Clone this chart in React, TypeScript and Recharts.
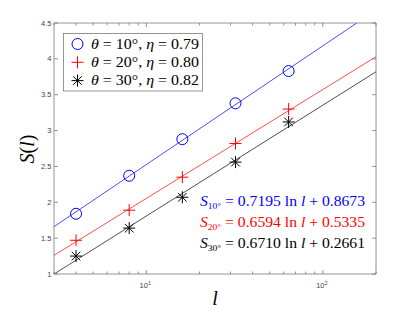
import React from 'react';
import { ComposedChart, XAxis, YAxis, Scatter, Line } from 'recharts';

const lValues = [4, 8, 16, 32, 64];
const s10 = [1.84, 2.37, 2.88, 3.38, 3.83];
const s20 = [1.47, 1.89, 2.35, 2.82, 3.3];
const s30 = [1.25, 1.64, 2.07, 2.56, 3.12];

const fitL = [3, 200];
const fit10 = [1.66, 4.68];
const fit20 = [1.26, 4.03];
const fit30 = [1.0, 3.82];

const xTicks = [3, 4, 5, 6, 7, 8, 9, 10, 20, 30, 40, 50, 60, 70, 80, 90, 100, 200];
const xMajor = [10, 100];
const xTickLabels: Record<number, string> = { 10: '1', 100: '2' };
const yTicks = [1, 1.5, 2, 2.5, 3, 3.5, 4, 4.5];

const legendLabels = [
  { theta: '10°', eta: '0.79' },
  { theta: '20°', eta: '0.80' },
  { theta: '30°', eta: '0.82' },
];
const eqLabels = [
  { sub: '10°', a: '0.7195', b: '0.8673' },
  { sub: '20°', a: '0.6594', b: '0.5335' },
  { sub: '30°', a: '0.6710', b: '0.2661' },
];

const BLUE = '#0000ff';
const RED = '#ff0000';
const BLACK = '#000000';
const FRAME = '#7a7a7a';
const TICKC = '#444';

const pts = (ys: number[]) => lValues.map((l, i) => ({ l, s: ys[i] }));
const fit = (ys: number[]) => fitL.map((l, i) => ({ l, s: ys[i] }));

const CircleShape = (p: any) => (
  <circle cx={p.cx} cy={p.cy} r={5.5} fill="none" stroke={BLUE} strokeWidth={1} />
);
const PlusShape = (p: any) => (
  <g stroke={RED} strokeWidth={1}>
    <line x1={p.cx - 6} y1={p.cy} x2={p.cx + 6} y2={p.cy} />
    <line x1={p.cx} y1={p.cy - 6} x2={p.cx} y2={p.cy + 6} />
  </g>
);
const StarShape = (p: any) => (
  <g stroke={BLACK} strokeWidth={1}>
    <line x1={p.cx - 6} y1={p.cy} x2={p.cx + 6} y2={p.cy} />
    <line x1={p.cx} y1={p.cy - 6} x2={p.cx} y2={p.cy + 6} />
    <line x1={p.cx - 4.3} y1={p.cy - 4.3} x2={p.cx + 4.3} y2={p.cy + 4.3} />
    <line x1={p.cx - 4.3} y1={p.cy + 4.3} x2={p.cx + 4.3} y2={p.cy - 4.3} />
  </g>
);

const BottomTick = (p: any) => {
  const v = p.payload.value;
  const major = xMajor.includes(v);
  const len = major ? 4 : 2.5;
  return (
    <g>
      <line x1={p.x} y1={p.y} x2={p.x} y2={p.y - len} stroke={FRAME} strokeWidth={0.8} />
      {major && (
        <text x={p.x - 1} y={p.y + 14} textAnchor="middle" fontSize={7.5} fill={TICKC} fontFamily="Liberation Sans, Arial, sans-serif">
          10<tspan dy={-3} fontSize={5.5}>{xTickLabels[v]}</tspan>
        </text>
      )}
    </g>
  );
};
const TopTick = (p: any) => {
  const v = p.payload.value;
  const major = xMajor.includes(v);
  const len = major ? 4 : 2.5;
  return <line x1={p.x} y1={p.y} x2={p.x} y2={p.y + len} stroke={FRAME} strokeWidth={0.8} />;
};
const LeftTick = (p: any) => (
  <g>
    <line x1={p.x} y1={p.y} x2={p.x + 4} y2={p.y} stroke={FRAME} strokeWidth={0.8} />
    <text x={p.x - 2.5} y={p.y + 2.6} textAnchor="end" fontSize={7.5} fill={TICKC} fontFamily="Liberation Sans, Arial, sans-serif">
      {String(p.payload.value)}
    </text>
  </g>
);
const RightTick = (p: any) => (
  <line x1={p.x} y1={p.y} x2={p.x - 4} y2={p.y} stroke={FRAME} strokeWidth={0.8} />
);

const SERIF = 'Liberation Serif, DejaVu Serif, serif';

export default function App() {
  return (
    <div style={{ position: 'absolute', left: 0, top: 0, width: 415, height: 312, background: '#fff' }}>
      <ComposedChart width={415} height={312} margin={{ top: 0, right: 0, bottom: 0, left: 0 }}>
        <XAxis
          dataKey="l"
          type="number"
          scale="log"
          domain={[3, 200]}
          allowDataOverflow
          ticks={xTicks}
          interval={0}
          height={38}
          tickSize={0}
          tickMargin={0}
          tickLine={false}
          tick={<BottomTick />}
          axisLine={{ stroke: FRAME, strokeWidth: 0.8 }}
        />
        <XAxis
          xAxisId="top"
          orientation="top"
          dataKey="l"
          type="number"
          scale="log"
          domain={[3, 200]}
          allowDataOverflow
          ticks={xTicks}
          interval={0}
          height={23}
          tickSize={0}
          tickMargin={0}
          tickLine={false}
          tick={<TopTick />}
          axisLine={{ stroke: FRAME, strokeWidth: 0.8 }}
        />
        <YAxis
          type="number"
          domain={[1, 4.5]}
          allowDataOverflow
          ticks={yTicks}
          interval={0}
          width={54}
          tickSize={0}
          tickMargin={0}
          tickLine={false}
          tick={<LeftTick />}
          axisLine={{ stroke: FRAME, strokeWidth: 0.8 }}
        />
        <YAxis
          yAxisId="right"
          orientation="right"
          type="number"
          domain={[1, 4.5]}
          allowDataOverflow
          ticks={yTicks}
          interval={0}
          width={39}
          tickSize={0}
          tickMargin={0}
          tickLine={false}
          tick={<RightTick />}
          axisLine={{ stroke: FRAME, strokeWidth: 0.8 }}
        />
        <Line data={fit(fit10)} dataKey="s" stroke={BLUE} strokeWidth={0.7} dot={false} isAnimationActive={false} type="linear" />
        <Line data={fit(fit20)} dataKey="s" stroke={RED} strokeWidth={0.7} dot={false} isAnimationActive={false} type="linear" />
        <Line data={fit(fit30)} dataKey="s" stroke={BLACK} strokeWidth={0.7} dot={false} isAnimationActive={false} type="linear" />
        <Scatter data={pts(s10)} dataKey="s" shape={<CircleShape />} isAnimationActive={false} />
        <Scatter data={pts(s20)} dataKey="s" shape={<PlusShape />} isAnimationActive={false} />
        <Scatter data={pts(s30)} dataKey="s" shape={<StarShape />} isAnimationActive={false} />
      </ComposedChart>
      <svg width={415} height={312} style={{ position: 'absolute', left: 0, top: 0, pointerEvents: 'none' }}>
        <rect x={63.5} y={33.5} width={139} height={57.5} fill="#fff" stroke={FRAME} strokeWidth={0.8} />
        {legendLabels.map((d, i) => {
          const cy = 44 + i * 18.3;
          const cx = 77.5;
          return (
            <g key={i}>
              {i === 0 && <circle cx={cx} cy={cy} r={5.5} fill="none" stroke={BLUE} strokeWidth={1} />}
              {i === 1 && <PlusShape cx={cx} cy={cy} />}
              {i === 2 && <StarShape cx={cx} cy={cy} />}
              <text x={91} y={cy + 4.8} fontSize={14} fontFamily={SERIF} fill="#000" textLength={108} lengthAdjust="spacingAndGlyphs">
                <tspan fontStyle="italic">θ</tspan>
                <tspan>{' = ' + d.theta + ', '}</tspan>
                <tspan fontStyle="italic">η</tspan>
                <tspan>{' = ' + d.eta}</tspan>
              </text>
            </g>
          );
        })}
        {eqLabels.map((d, i) => {
          const color = [BLUE, RED, BLACK][i];
          const y = 206 + i * 21;
          return (
            <text key={i} x={200} y={y} fontSize={14} fontFamily={SERIF} fill={color} textLength={165} lengthAdjust="spacingAndGlyphs">
              <tspan fontStyle="italic">S</tspan>
              <tspan fontSize={8.5} dy={3}>{d.sub}</tspan>
              <tspan dy={-3}>{' = ' + d.a + ' ln '}</tspan>
              <tspan fontStyle="italic">l</tspan>
              <tspan>{' + ' + d.b}</tspan>
            </text>
          );
        })}
        <text x={215} y={305} fontSize={20} fontFamily={SERIF} fontStyle="italic" textAnchor="middle" fill="#000">l</text>
        <text transform="translate(34,149) rotate(-90)" fontSize={20} fontFamily={SERIF} textAnchor="middle" fill="#000">
          <tspan fontStyle="italic">S</tspan>
          <tspan>(</tspan>
          <tspan fontStyle="italic">l</tspan>
          <tspan>)</tspan>
        </text>
      </svg>
    </div>
  );
}
